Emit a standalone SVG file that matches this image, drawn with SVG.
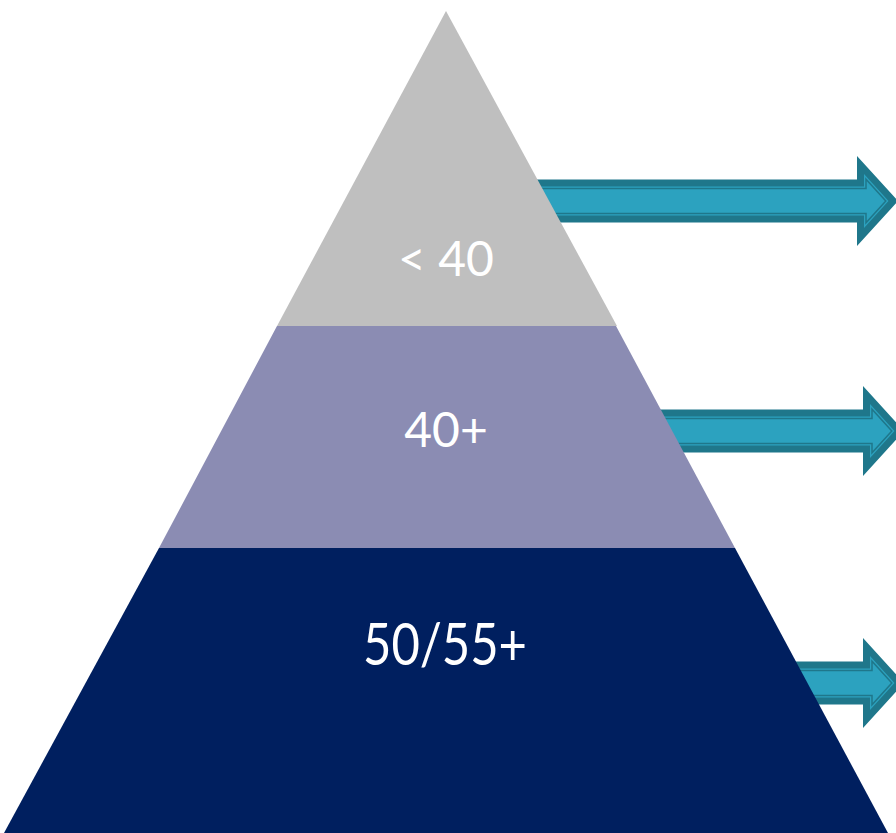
<svg xmlns="http://www.w3.org/2000/svg" width="896" height="833" viewBox="0 0 896 833">
<style>
.lbl{font-family:Lato,"Noto Sans",sans-serif;fill:#ffffff;text-anchor:middle}
.ao{fill:#1f778b}
.ai{fill:#2ca2bf}
.al{fill:none;stroke:#1f778b;stroke-width:1.5}
</style>
<defs>
<g id="arrow">
<polygon class="ao" points="-400,-21.5 0,-21.5 0,-45 41,0 0,45 0,21.5 -400,21.5"/>
<polygon class="ai" points="-400,-14.5 7,-14.5 7,-26.9 31.5,0 7,26.9 7,14.5 -400,14.5"/>
<polygon class="al" points="-400,-12.5 9,-12.5 9,-21.8 28.8,0 9,21.8 9,12.5 -400,12.5"/>
</g>
</defs>
<rect width="896" height="833" fill="#ffffff"/>
<g id="connectors">
<use href="#arrow" transform="translate(857,201)"/>
<use href="#arrow" transform="translate(863,431)"/>
<use href="#arrow" transform="translate(863,683)"/>
</g>
<g id="node-top">
<polygon points="446,11 277,326 617,326" fill="#bfbfbf"/>
<text class="lbl" x="446" y="276" font-size="48">&lt; 40</text>
</g>
<g id="node-middle">
<polygon points="277,326 616,326 735,548 159,548" fill="#8b8cb3"/>
<text class="lbl" x="446" y="447" font-size="48">40+</text>
</g>
<g id="node-bottom">
<polygon points="159,548 735,548 888,833 4,833" fill="#001f5f"/>
<text class="lbl" x="445" y="665" font-size="58" textLength="164" lengthAdjust="spacingAndGlyphs">50/55+</text>
</g>
</svg>
